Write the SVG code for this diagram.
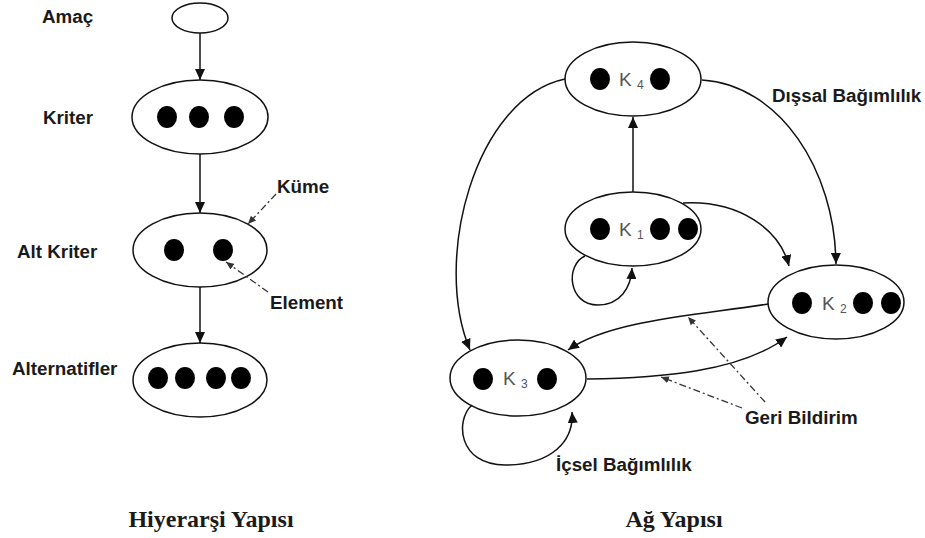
<svg xmlns="http://www.w3.org/2000/svg" width="925" height="538" viewBox="0 0 925 538">
  <style>
    .node { fill: #fff; stroke: #111; stroke-width: 1.5; }
    .dot { fill: #000; }
    .edge { fill: none; stroke: #111; stroke-width: 1.5; }
    .hint { fill: none; stroke: #333; stroke-width: 1.3; stroke-dasharray: 7 3 2 3; }
    .lbl { font-family: "Liberation Sans", Arial, sans-serif; font-weight: bold; font-size: 18.8px; fill: #1a1a1a; }
    .k { font-family: "Liberation Sans", Arial, sans-serif; font-size: 19px; fill: #555; }
    .sub { font-family: "Liberation Sans", Arial, sans-serif; font-size: 12px; fill: #555; }
    .title { font-family: "Liberation Serif", "Times New Roman", serif; font-weight: bold; font-size: 24px; fill: #1a1a1a; }
  </style>
  <defs>
    <marker id="arr" markerUnits="userSpaceOnUse" markerWidth="12" markerHeight="10" refX="11" refY="5" orient="auto">
      <path d="M0,0 L11,5 L0,10 z" fill="#111"/>
    </marker>
    <marker id="arrs" markerUnits="userSpaceOnUse" markerWidth="9" markerHeight="7" refX="8" refY="3.5" orient="auto">
      <path d="M0,0 L8,3.5 L0,7 z" fill="#333"/>
    </marker>
  </defs>

  <!-- Hierarchy -->
  <g id="amac">
    <ellipse class="node" cx="200" cy="18" rx="28" ry="15"/>
    <text class="lbl" x="42" y="23">Amaç</text>
  </g>
  <g id="kriter">
    <ellipse class="node" cx="200" cy="117" rx="68" ry="37"/>
    <ellipse class="dot" cx="167" cy="117" rx="10" ry="11"/>
    <ellipse class="dot" cx="199" cy="117" rx="10" ry="11"/>
    <ellipse class="dot" cx="234" cy="117" rx="10" ry="11"/>
    <text class="lbl" x="43" y="124">Kriter</text>
  </g>
  <g id="alt-kriter">
    <ellipse class="node" cx="200" cy="250" rx="67" ry="37"/>
    <ellipse class="dot" cx="174" cy="250" rx="10" ry="11"/>
    <ellipse class="dot" cx="223" cy="250" rx="10" ry="11"/>
    <text class="lbl" x="17" y="258">Alt Kriter</text>
  </g>
  <g id="alternatifler">
    <ellipse class="node" cx="200" cy="380" rx="67" ry="37"/>
    <ellipse class="dot" cx="158" cy="378" rx="10" ry="11"/>
    <ellipse class="dot" cx="185" cy="378" rx="10" ry="11"/>
    <ellipse class="dot" cx="216" cy="378" rx="10" ry="11"/>
    <ellipse class="dot" cx="241" cy="378" rx="10" ry="11"/>
    <text class="lbl" x="12" y="375">Alternatifler</text>
  </g>
  <g id="notes-left">
    <text class="lbl" x="277" y="193">Küme</text>
    <text class="lbl" x="270" y="309">Element</text>
  </g>

  <!-- Network -->
  <g id="k4">
    <ellipse class="node" cx="633" cy="79" rx="68" ry="37"/>
    <ellipse class="dot" cx="600" cy="79" rx="10" ry="11"/>
    <ellipse class="dot" cx="660" cy="79" rx="10" ry="11"/>
    <text class="k" x="619" y="86">K</text><text class="sub" x="637" y="89">4</text>
  </g>
  <g id="k1">
    <ellipse class="node" cx="633" cy="229" rx="68" ry="37"/>
    <ellipse class="dot" cx="600" cy="229" rx="10" ry="11"/>
    <ellipse class="dot" cx="660" cy="229" rx="10" ry="11"/>
    <ellipse class="dot" cx="688" cy="229" rx="10" ry="11"/>
    <text class="k" x="619" y="236">K</text><text class="sub" x="637" y="239">1</text>
  </g>
  <g id="k2">
    <ellipse class="node" cx="836" cy="302" rx="68" ry="37"/>
    <ellipse class="dot" cx="802" cy="303" rx="10" ry="11"/>
    <ellipse class="dot" cx="863" cy="303" rx="10" ry="11"/>
    <ellipse class="dot" cx="891" cy="303" rx="10" ry="11"/>
    <text class="k" x="822" y="310">K</text><text class="sub" x="840" y="313">2</text>
  </g>
  <g id="k3">
    <ellipse class="node" cx="518" cy="378" rx="68" ry="38"/>
    <ellipse class="dot" cx="483" cy="379" rx="10" ry="11"/>
    <ellipse class="dot" cx="547" cy="379" rx="10" ry="11"/>
    <text class="k" x="503" y="385">K</text><text class="sub" x="521" y="388">3</text>
  </g>
  <g id="notes-right">
    <text class="lbl" x="772" y="102">Dışsal Bağımlılık</text>
    <text class="lbl" x="745" y="424">Geri Bildirim</text>
    <text class="lbl" x="556" y="471">İçsel Bağımlılık</text>
  </g>

  <g id="titles">
    <text class="title" x="211" y="527" text-anchor="middle">Hiyerarşi Yapısı</text>
    <text class="title" x="674" y="527" text-anchor="middle">Ağ Yapısı</text>
  </g>

  <g id="connectors">
    <!-- hierarchy -->
    <line class="edge" x1="200" y1="33" x2="200" y2="80" marker-end="url(#arr)"/>
    <line class="edge" x1="200" y1="154" x2="200" y2="213" marker-end="url(#arr)"/>
    <line class="edge" x1="200" y1="287" x2="200" y2="343" marker-end="url(#arr)"/>
    <line class="hint" x1="276" y1="194" x2="248" y2="224" marker-end="url(#arrs)"/>
    <line class="hint" x1="268" y1="292" x2="226" y2="262" marker-end="url(#arrs)"/>
    <!-- network -->
    <line class="edge" x1="633" y1="192" x2="633" y2="117" marker-end="url(#arr)"/>
    <path class="edge" d="M565,79 C475,98 432,260 470,350" marker-end="url(#arr)"/>
    <path class="edge" d="M702,80 C780,85 835,170 836,264" marker-end="url(#arr)"/>
    <path class="edge" d="M683,203 C740,200 780,230 789,266" marker-end="url(#arr)"/>
    <path class="edge" d="M585,256 C565,265 568,305 598,305 C620,305 631,288 632,268" marker-end="url(#arr)"/>
    <path class="edge" d="M472,405 C455,420 458,465 505,465 C553,465 574,440 572,412" marker-end="url(#arr)"/>
    <path class="edge" d="M768,304 C700,315 610,320 568,350" marker-end="url(#arr)"/>
    <path class="edge" d="M587,379 C660,378 740,372 787,337" marker-end="url(#arr)"/>
    <line class="hint" x1="765" y1="402" x2="688" y2="317" marker-end="url(#arrs)"/>
    <line class="hint" x1="742" y1="408" x2="661" y2="377" marker-end="url(#arrs)"/>
  </g>
</svg>
